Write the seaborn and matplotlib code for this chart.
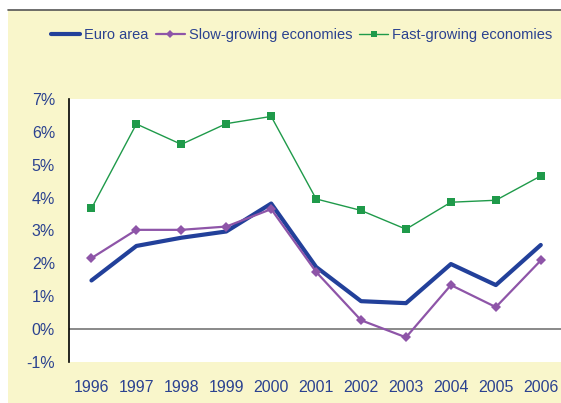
import pandas as pd
import seaborn as sns
import matplotlib.pyplot as plt
from matplotlib.patches import Rectangle
from matplotlib.ticker import FuncFormatter

years = list(range(1996, 2007))
euro_area = [1.48, 2.53, 2.78, 2.97, 3.82, 1.89, 0.85, 0.79, 1.98, 1.34, 2.56]
slow_growing = [2.16, 3.02, 3.02, 3.12, 3.65, 1.74, 0.27, -0.25, 1.34, 0.67, 2.09]
fast_growing = [3.67, 6.24, 5.62, 6.25, 6.47, 3.96, 3.61, 3.04, 3.86, 3.92, 4.66]

series_names = ["Euro area", "Slow-growing economies", "Fast-growing economies"]
colors = ["#22409a", "#8e55a8", "#1f9a4a"]
markers = [None, "D", "s"]
marker_sizes = [0, 4.8, 6]
widths = [3.0, 1.6, 1.0]

df = pd.DataFrame({"year": years, series_names[0]: euro_area,
                   series_names[1]: slow_growing, series_names[2]: fast_growing})

sns.set_style("white")
plt.rcParams['font.family'] = ['Liberation Sans', 'DejaVu Sans']
text_color = "#2b4290"

fig = plt.figure(figsize=(5.61, 4.03), dpi=100)
# yellow panel with a dark rule along its top
fig.patches.append(Rectangle((8 / 561, 0), 1, 393 / 403, transform=fig.transFigure,
                             facecolor="#f9f6cb", edgecolor="none", zorder=-10))
fig.lines.append(plt.Line2D([8 / 561, 1], [393 / 403, 393 / 403], transform=fig.transFigure,
                            color="#555555", linewidth=1.2))

ax = fig.add_axes([69 / 561, (403 - 362) / 403, (561 - 69) / 561, (362 - 99) / 403])
ax.set_facecolor("white")

for name, c, m, ms, w in zip(series_names, colors, markers, marker_sizes, widths):
    sns.lineplot(data=df, x="year", y=name, color=c, marker=m, linewidth=w,
                 markersize=ms, markeredgewidth=0, ax=ax, label=name, legend=False)

ax.axhline(0, color="#808080", linewidth=1.3, zorder=1)
ax.set_xlim(1995.5, 2006.45)
ax.set_ylim(-1, 7)
ax.set_xticks(years)
ax.set_yticks(range(-1, 8))
ax.yaxis.set_major_formatter(FuncFormatter(lambda v, p: f"{int(v)}%"))
ax.tick_params(axis="both", length=0, labelsize=11.5, labelcolor=text_color)
ax.tick_params(axis="x", pad=13)
ax.tick_params(axis="y", pad=10)
ax.set_xlabel("")
ax.set_ylabel("")
for s in ["top", "right", "bottom"]:
    ax.spines[s].set_visible(False)
ax.spines["left"].set_color("black")
ax.spines["left"].set_linewidth(1.2)

handles = [plt.Line2D([], [], color=c, linewidth=w, marker=m, markersize=4.5, markeredgewidth=0)
           for c, m, w in zip(colors, markers, widths)]
leg = fig.legend(handles, series_names, loc="center right", bbox_to_anchor=(0.995, 1 - 35 / 403),
                 ncol=3, frameon=False, fontsize=10.5, handlelength=2.0, handletextpad=0.25,
                 columnspacing=0.5, borderaxespad=0)
for t in leg.get_texts():
    t.set_color(text_color)

fig.savefig("out.png", dpi=100)
